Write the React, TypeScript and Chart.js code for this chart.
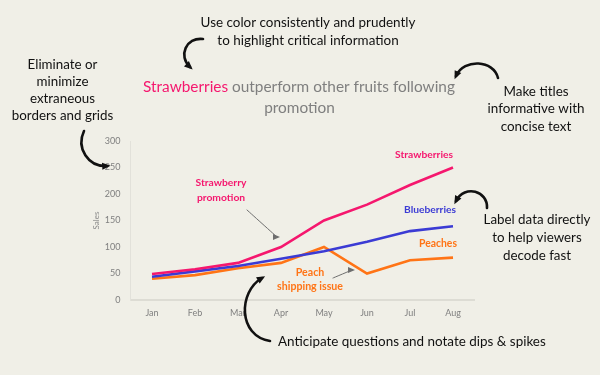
import React, { useEffect, useRef } from "react";
import { Chart, registerables } from "chart.js";
Chart.register(...registerables);

const months = ["Jan", "Feb", "Mar", "Apr", "May", "Jun", "Jul", "Aug"];
const strawberries = [49, 58, 70, 100, 150, 180, 217, 250];
const blueberries = [44, 54, 64, 78, 92, 110, 130, 139];
const peaches = [40, 47, 60, 70, 100, 50, 75, 80];
const yMin = 0;
const yMax = 300;
const yStep = 50;

const PINK = "#F5176E";
const BLUE = "#3B3BD4";
const ORANGE = "#FF7416";
const BG = "#F0EFE7";
const FAMILY = "Lato, 'Open Sans', sans-serif";

type Pt = [number, number];

function fitSize(ctx: CanvasRenderingContext2D, text: string, weight: string, target: number) {
  ctx.font = `${weight} 20px ${FAMILY}`;
  const w = ctx.measureText(text).width;
  return (20 * target) / w;
}

function block(
  ctx: CanvasRenderingContext2D,
  lines: string[],
  cx: number,
  ys: number[],
  widest: number,
  color: string,
  weight = "normal"
) {
  let longest = lines[0];
  for (const l of lines) {
    ctx.font = `${weight} 20px ${FAMILY}`;
    if (ctx.measureText(l).width > ctx.measureText(longest).width) longest = l;
  }
  const size = fitSize(ctx, longest, weight, widest);
  ctx.font = `${weight} ${size}px ${FAMILY}`;
  ctx.fillStyle = color;
  ctx.textAlign = "center";
  ctx.textBaseline = "middle";
  lines.forEach((l, i) => ctx.fillText(l, cx, ys[i]));
}

function curveArrow(ctx: CanvasRenderingContext2D, p: Pt[], color = "#111", lw = 2.6, head = 6) {
  const [s, c1, c2, e] = p;
  ctx.save();
  ctx.strokeStyle = color;
  ctx.fillStyle = color;
  ctx.lineWidth = lw;
  ctx.lineCap = "round";
  ctx.beginPath();
  ctx.moveTo(s[0], s[1]);
  ctx.bezierCurveTo(c1[0], c1[1], c2[0], c2[1], e[0], e[1]);
  ctx.stroke();
  const ang = Math.atan2(e[1] - c2[1], e[0] - c2[0]);
  ctx.beginPath();
  ctx.moveTo(e[0] + Math.cos(ang) * head * 0.6, e[1] + Math.sin(ang) * head * 0.6);
  ctx.lineTo(e[0] + Math.cos(ang + 2.5) * head, e[1] + Math.sin(ang + 2.5) * head);
  ctx.lineTo(e[0] + Math.cos(ang - 2.5) * head, e[1] + Math.sin(ang - 2.5) * head);
  ctx.closePath();
  ctx.fill();
  ctx.restore();
}

function straightArrow(ctx: CanvasRenderingContext2D, s: Pt, e: Pt) {
  curveArrow(ctx, [s, s, e, e], "#6E6E6E", 1, 5);
}

const decorPlugin = {
  id: "decor",
  beforeDraw(chart: any) {
    const ctx = chart.ctx as CanvasRenderingContext2D;
    ctx.save();
    ctx.fillStyle = BG;
    ctx.fillRect(0, 0, chart.width, chart.height);
    ctx.restore();
  },
  afterDraw(chart: any) {
    const ctx = chart.ctx as CanvasRenderingContext2D;
    ctx.save();

    // Title with highlighted word
    const t1 = "Strawberries";
    const t2 = " outperform other fruits following";
    const tSize = fitSize(ctx, t1 + t2, "normal", 312);
    ctx.font = `normal ${tSize}px ${FAMILY}`;
    ctx.textBaseline = "middle";
    ctx.textAlign = "left";
    const w1 = ctx.measureText(t1).width;
    const wAll = ctx.measureText(t1 + t2).width;
    const x0 = 299 - wAll / 2;
    ctx.fillStyle = PINK;
    ctx.fillText(t1, x0, 87);
    ctx.fillStyle = "#7F7F7F";
    ctx.fillText(t2, x0 + w1, 87);
    ctx.textAlign = "center";
    ctx.fillText("promotion", 299.5, 108);

    // Annotation blocks
    block(ctx, ["Use color consistently and prudently", "to highlight critical information"], 308, [23, 41], 215, "#111");
    block(ctx, ["Eliminate or", "minimize", "extraneous", "borders and grids"], 62.5, [65, 82, 99, 116], 101.5, "#111");
    block(ctx, ["Make titles", "informative with", "concise text"], 536, [92, 109, 127], 97, "#111");
    block(ctx, ["Label data directly", "to help viewers", "decode fast"], 537, [220, 238, 256], 107, "#111");
    ctx.textAlign = "left";
    const aSize = fitSize(ctx, "Anticipate questions and notate dips & spikes", "normal", 268);
    ctx.font = `normal ${aSize}px ${FAMILY}`;
    ctx.fillStyle = "#111";
    ctx.textBaseline = "middle";
    ctx.fillText("Anticipate questions and notate dips & spikes", 278, 342);

    // Direct data labels
    block(ctx, ["Strawberries"], 424, [155], 58, PINK, "bold");
    block(ctx, ["Blueberries"], 430, [210], 52, BLUE, "bold");
    block(ctx, ["Peaches"], 438, [244], 38, ORANGE, "bold");
    block(ctx, ["Strawberry", "promotion"], 221, [183, 197.5], 51, PINK, "bold");
    block(ctx, ["Peach", "shipping issue"], 310, [273, 287], 66, ORANGE, "bold");

    // Thin pointer arrows
    straightArrow(ctx, [247, 210], [277, 237]);
    straightArrow(ctx, [333, 278], [352, 270]);

    // Brush-style curved arrows
    curveArrow(ctx, [[203, 39], [186, 37], [178, 56], [190, 67]]);
    curveArrow(ctx, [[498, 78], [494, 60], [464, 58], [456, 76]]);
    curveArrow(ctx, [[84, 131], [76, 148], [88, 167], [107, 166]]);
    curveArrow(ctx, [[487, 208], [488, 191], [465, 184], [456, 201]]);
    curveArrow(ctx, [[270, 341], [238, 336], [238, 292], [262, 278]]);

    ctx.restore();
  },
};

export default function App() {
  const ref = useRef<HTMLCanvasElement | null>(null);
  useEffect(() => {
    if (!ref.current) return;
    const chart = new Chart(ref.current, {
      type: "line",
      data: {
        labels: months,
        datasets: [
          { label: "Strawberries", data: strawberries, borderColor: PINK, borderWidth: 2.6, pointRadius: 0, tension: 0 },
          { label: "Blueberries", data: blueberries, borderColor: BLUE, borderWidth: 2.6, pointRadius: 0, tension: 0 },
          { label: "Peaches", data: peaches, borderColor: ORANGE, borderWidth: 2.6, pointRadius: 0, tension: 0 },
        ],
      },
      options: {
        animation: false,
        responsive: false,
        devicePixelRatio: 1,
        layout: { padding: { left: 88, right: 125.5, top: 141, bottom: 0 } },
        plugins: { legend: { display: false }, title: { display: false }, tooltip: { enabled: false } },
        scales: {
          x: {
            offset: true,
            grid: { display: false, drawTicks: false },
            border: { display: true, color: "#DDDCD4", width: 2 },
            ticks: { color: "#7F7F7F", font: { family: FAMILY, size: 9 }, padding: 8, maxRotation: 0 },
            afterFit: (s: any) => { s.height = 75; },
          },
          y: {
            min: yMin,
            max: yMax,
            grid: { display: false, drawTicks: false },
            border: { display: true, color: "#E2E1DA", width: 1 },
            ticks: { stepSize: yStep, color: "#7F7F7F", font: { family: FAMILY, size: 9 }, padding: 10 },
            title: { display: true, text: "Sales", color: "#8A8A8A", font: { family: FAMILY, size: 8 }, padding: { top: 4, bottom: 0 } },
            afterFit: (s: any) => { s.width = 42.5; },
          },
        },
      },
      plugins: [decorPlugin],
    });
    return () => chart.destroy();
  }, []);
  return (
    <div style={{ position: "fixed", left: 0, top: 0, width: 600, height: 375, background: BG }}>
      <canvas ref={ref} width={600} height={375} style={{ width: 600, height: 375, display: "block" }} />
    </div>
  );
}
